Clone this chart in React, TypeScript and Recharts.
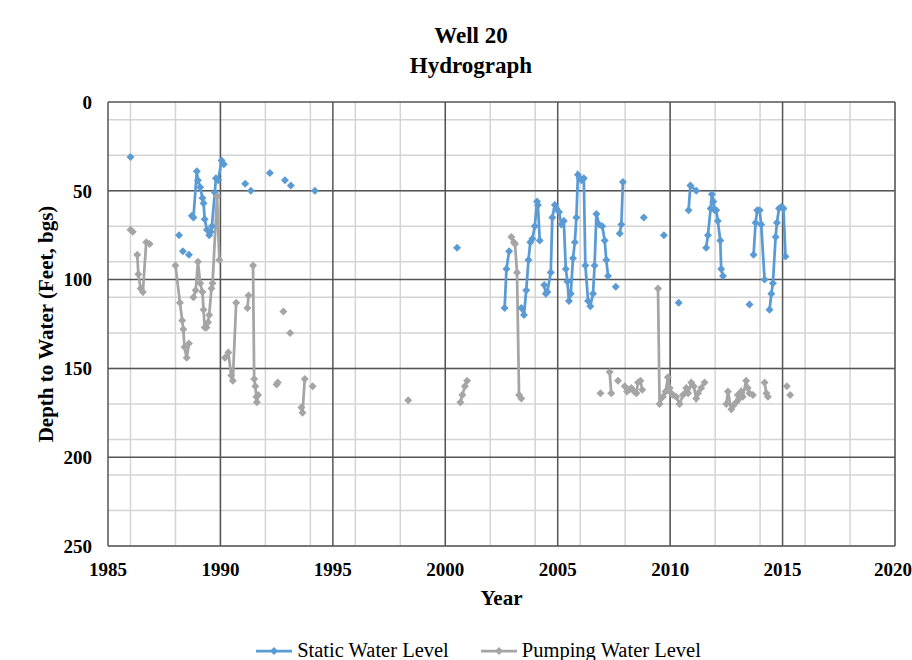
import { LineChart, Line, XAxis, YAxis, CartesianGrid, Legend } from 'recharts'

type Pt = [number, number]

const X_TICKS = [1985, 1990, 1995, 2000, 2005, 2010, 2015, 2020]
const Y_TICKS = [0, 50, 100, 150, 200, 250]
const X_MINOR = Array.from({ length: 36 }, (_, i) => 1985 + i)
const Y_MINOR = Array.from({ length: 26 }, (_, i) => i * 10)
const LEGEND_ORDER = ['Static Water Level', 'Pumping Water Level']

// static water level (feet bgs), each inner list is one connected run
const STATIC_EARLY: Pt[][] = [
  [[1986.0, 31]],
  [[1988.16, 75]],
  [[1988.33, 84]],
  [[1988.6, 86]],
  [
    [1988.73, 64], [1988.8, 65], [1988.95, 39], [1989.0, 44], [1989.1, 48],
    [1989.2, 54], [1989.25, 57], [1989.3, 66], [1989.4, 72], [1989.5, 75],
    [1989.57, 73], [1989.62, 70], [1989.75, 51], [1989.8, 43], [1989.9, 44],
    [1990.05, 33], [1990.15, 35],
  ],
  [[1991.1, 46]],
  [[1991.35, 50]],
  [[1992.2, 40]],
  [[1992.87, 44]],
  [[1993.13, 47]],
  [[1994.2, 50]],
]

const STATIC_LATE: Pt[][] = [
  [[2000.52, 82]],
  [[2002.64, 116], [2002.72, 94], [2002.84, 84]],
  [
    [2003.38, 116], [2003.5, 120], [2003.6, 106], [2003.7, 89], [2003.78, 79],
    [2003.87, 77], [2003.98, 70], [2004.08, 56], [2004.12, 58], [2004.2, 78],
  ],
  [
    [2004.4, 103], [2004.47, 108], [2004.54, 107], [2004.69, 96], [2004.76, 65],
    [2004.87, 58], [2004.94, 60], [2005.06, 62], [2005.16, 69], [2005.27, 67],
    [2005.36, 94], [2005.43, 101], [2005.5, 112], [2005.58, 108], [2005.68, 88],
    [2005.76, 79], [2005.83, 65], [2005.9, 41], [2005.98, 43], [2006.05, 44],
    [2006.16, 43], [2006.23, 92], [2006.35, 112], [2006.45, 115], [2006.57, 108],
    [2006.64, 92], [2006.72, 63], [2006.84, 69], [2006.98, 70], [2007.09, 78],
    [2007.16, 89], [2007.24, 98],
  ],
  [[2007.58, 104]],
  [[2007.76, 74], [2007.83, 69], [2007.9, 45]],
  [[2008.83, 65]],
  [[2009.72, 75]],
  [[2010.38, 113]],
  [[2010.82, 61], [2010.9, 47], [2011.16, 50]],
  [
    [2011.6, 82], [2011.68, 75], [2011.8, 60], [2011.86, 52], [2011.92, 56],
    [2011.98, 61], [2012.05, 61], [2012.12, 67], [2012.23, 78], [2012.27, 94],
    [2012.35, 98],
  ],
  [[2013.53, 114]],
  [
    [2013.71, 86], [2013.8, 68], [2013.87, 61], [2013.98, 61], [2014.05, 69],
    [2014.2, 100],
  ],
  [
    [2014.42, 117], [2014.5, 108], [2014.57, 102], [2014.69, 76], [2014.75, 68],
    [2014.84, 60], [2014.95, 59], [2015.04, 60], [2015.13, 87],
  ],
]

// pumping water level (feet bgs)
const PUMPING_EARLY: Pt[][] = [
  [[1986.0, 72], [1986.1, 73]],
  [
    [1986.3, 86], [1986.35, 97], [1986.45, 105], [1986.55, 107], [1986.7, 79],
    [1986.85, 80],
  ],
  [
    [1988.0, 92], [1988.2, 113], [1988.3, 123], [1988.35, 128], [1988.4, 138],
    [1988.5, 144], [1988.6, 136],
  ],
  [
    [1988.8, 110], [1988.9, 106], [1989.0, 90], [1989.1, 102], [1989.2, 107],
    [1989.25, 117], [1989.3, 127], [1989.38, 127], [1989.45, 124], [1989.5, 120],
    [1989.6, 105], [1989.65, 102], [1989.85, 53], [1989.95, 89],
  ],
  [[1990.2, 144], [1990.35, 141], [1990.48, 154], [1990.55, 157], [1990.7, 113]],
  [[1991.2, 116], [1991.25, 109]],
  [
    [1991.45, 92], [1991.5, 156], [1991.55, 160], [1991.6, 166], [1991.62, 169],
    [1991.68, 165],
  ],
  [[1992.5, 159], [1992.55, 158]],
  [[1992.8, 118]],
  [[1993.1, 130]],
  [[1993.6, 172], [1993.65, 175], [1993.75, 156]],
  [[1994.1, 160]],
]

const PUMPING_LATE: Pt[][] = [
  [[1998.35, 168]],
  [[2000.67, 169], [2000.76, 165], [2000.87, 160], [2000.97, 157]],
  [
    [2002.94, 76], [2003.05, 79], [2003.1, 80], [2003.19, 96], [2003.28, 165],
    [2003.38, 167],
  ],
  [[2006.9, 164]],
  [[2007.31, 152], [2007.38, 164]],
  [[2007.68, 157]],
  [
    [2007.98, 160], [2008.08, 163], [2008.17, 162], [2008.27, 161], [2008.4, 163],
    [2008.5, 164], [2008.57, 158], [2008.68, 157], [2008.76, 162],
  ],
  [
    [2009.46, 105], [2009.53, 170], [2009.68, 166], [2009.8, 163], [2009.9, 155],
    [2009.98, 161], [2010.05, 164], [2010.12, 165], [2010.27, 166], [2010.42, 170],
    [2010.57, 165], [2010.72, 161], [2010.8, 164], [2010.94, 158], [2011.05, 160],
    [2011.16, 167], [2011.24, 164], [2011.38, 161], [2011.53, 158],
  ],
  [
    [2012.5, 170], [2012.57, 163], [2012.72, 173], [2012.8, 171], [2012.94, 169],
    [2013.01, 165], [2013.08, 167], [2013.16, 163], [2013.23, 166], [2013.38, 157],
    [2013.45, 161], [2013.53, 164], [2013.68, 165],
  ],
  [[2014.2, 158], [2014.28, 164], [2014.35, 166]],
  [[2015.19, 160]],
  [[2015.34, 165]],
]

const STATIC_COLOR = '#5b9bd5'
const PUMPING_COLOR = '#a5a5a5'
const FONT = "'Liberation Serif', 'Times New Roman', serif"

function toSeries(groups: Pt[][]) {
  const rows: { year: number; depth: number | null }[] = []
  groups.forEach((g, i) => {
    if (i > 0) rows.push({ year: g[0][0], depth: null })
    g.forEach(([year, depth]) => rows.push({ year, depth }))
  })
  return rows
}

const staticData = toSeries([...STATIC_EARLY, ...STATIC_LATE])
const pumpingData = toSeries([...PUMPING_EARLY, ...PUMPING_LATE])

const diamond = (color: string, r: number) => (props: any) => {
  const { cx, cy, index } = props
  if (cx == null || cy == null || props.value == null) return <g key={`d-${index}`} />
  return (
    <path
      key={`d-${index}`}
      d={`M${cx},${cy - r}L${cx + r},${cy}L${cx},${cy + r}L${cx - r},${cy}Z`}
      fill={color}
    />
  )
}

function LegendContent(props: any) {
  const items = [...(props.payload || [])].sort(
    (a: any, b: any) => LEGEND_ORDER.indexOf(a.value) - LEGEND_ORDER.indexOf(b.value)
  )
  return (
    <div
      style={{
        position: 'relative',
        top: 9,
        display: 'flex',
        justifyContent: 'center',
        gap: 32,
        paddingLeft: 62,
        fontFamily: FONT,
        fontSize: 20.5,
        color: '#000',
      }}
    >
      {items.map((it: any) => (
        <div key={it.value} style={{ display: 'flex', alignItems: 'center', gap: 5 }}>
          <svg width={36} height={10}>
            <line x1={0} y1={5} x2={36} y2={5} stroke={it.color} strokeWidth={2.75} />
            <path d="M18,1L22,5L18,9L14,5Z" fill={it.color} />
          </svg>
          <span>{it.value}</span>
        </div>
      ))}
    </div>
  )
}

const tickStyle = { fontFamily: FONT, fontWeight: 'bold', fontSize: 19, fill: '#000' }

export default function App() {
  return (
    <div style={{ position: 'absolute', left: 0, top: 0, width: 912, height: 660, background: '#fff' }}>
      <div
        style={{
          position: 'absolute',
          left: 0,
          top: 21,
          width: 942,
          textAlign: 'center',
          fontFamily: FONT,
          fontWeight: 'bold',
          fontSize: 23,
          lineHeight: '30px',
          color: '#000',
        }}
      >
        <div>Well 20</div>
        <div>Hydrograph</div>
      </div>
      <LineChart width={912} height={660} margin={{ top: 102, right: 17, bottom: 0, left: 0 }}>
        <CartesianGrid
          verticalValues={X_MINOR}
          horizontalValues={Y_MINOR}
          stroke="#d4d4d4"
          strokeWidth={1.5}
        />
        <CartesianGrid
          verticalValues={X_TICKS}
          horizontalValues={Y_TICKS}
          stroke="#555555"
          strokeWidth={1.5}
        />
        <XAxis
          dataKey="year"
          type="number"
          domain={[1985, 2020]}
          ticks={X_TICKS}
          allowDataOverflow
          axisLine={false}
          tickLine={false}
          tickSize={0}
          tickMargin={17}
          height={84}
          tick={tickStyle}
          label={{
            value: 'Year',
            position: 'insideBottom',
            offset: 25,
            style: { fontFamily: FONT, fontWeight: 'bold', fontSize: 21, fill: '#000' },
          }}
        />
        <YAxis
          type="number"
          domain={[0, 250]}
          ticks={Y_TICKS}
          reversed
          allowDataOverflow
          axisLine={false}
          tickLine={false}
          tickSize={0}
          tickMargin={16}
          width={108}
          tick={tickStyle}
          label={{
            content: (p: any) => {
              const vb = p.viewBox || { x: 0, y: 102, height: 444 }
              const cx = vb.x + 46
              const cy = vb.y + vb.height / 2
              return (
                <text
                  x={cx}
                  y={cy}
                  transform={`rotate(-90 ${cx} ${cy})`}
                  textAnchor="middle"
                  dominantBaseline="central"
                  style={{ fontFamily: FONT, fontWeight: 'bold', fontSize: 21, fill: '#000' }}
                >
                  Depth to Water (Feet, bgs)
                </text>
              )
            },
          }}
        />
        <Legend verticalAlign="bottom" height={30} content={<LegendContent />} />
        <Line
          data={staticData}
          dataKey="depth"
          name="Static Water Level"
          stroke={STATIC_COLOR}
          strokeWidth={2.75}
          dot={diamond(STATIC_COLOR, 4)}
          activeDot={false}
          isAnimationActive={false}
        />
        <Line
          data={pumpingData}
          dataKey="depth"
          name="Pumping Water Level"
          stroke={PUMPING_COLOR}
          strokeWidth={2.75}
          dot={diamond(PUMPING_COLOR, 4)}
          activeDot={false}
          isAnimationActive={false}
        />
      </LineChart>
    </div>
  )
}
